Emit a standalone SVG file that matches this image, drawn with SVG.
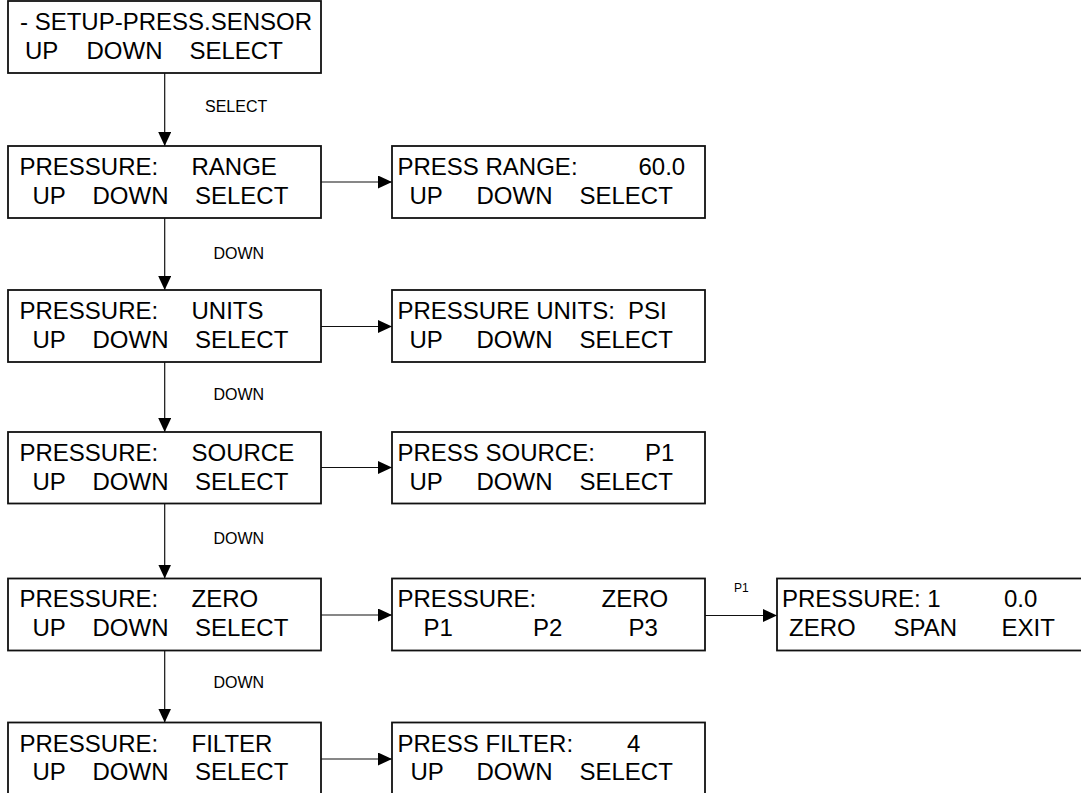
<svg xmlns="http://www.w3.org/2000/svg" width="1081" height="793" viewBox="0 0 1081 793">
<style>
.box{fill:#fff;stroke:#111;stroke-width:1.8}
.t{font-family:"Liberation Sans",Arial,sans-serif;font-size:24px;fill:#000}
.s{font-family:"Liberation Sans",Arial,sans-serif;font-size:16px;fill:#000}
.xs{font-family:"Liberation Sans",Arial,sans-serif;font-size:12px;fill:#000}
.c{stroke:#111;stroke-width:1.2;fill:none;marker-end:url(#ah)}
</style>
<defs>
<marker id="ah" markerWidth="14" markerHeight="13" refX="14" refY="6.5" orient="auto" markerUnits="userSpaceOnUse">
<path d="M0,0 L14,6.5 L0,13 Z" fill="#000"/>
</marker>
</defs>
<rect width="1081" height="793" fill="#fff"/>
<g id="connectors">
<line class="c" x1="164.7" y1="73" x2="164.7" y2="146"/>
<line class="c" x1="164.7" y1="218" x2="164.7" y2="290"/>
<line class="c" x1="164.7" y1="362" x2="164.7" y2="432"/>
<line class="c" x1="164.7" y1="503.5" x2="164.7" y2="578.5"/>
<line class="c" x1="164.7" y1="650.5" x2="164.7" y2="722.5"/>
<line class="c" x1="321" y1="182" x2="392" y2="182"/>
<line class="c" x1="321" y1="326.5" x2="392" y2="326.5"/>
<line class="c" x1="321" y1="467.5" x2="392" y2="467.5"/>
<line class="c" x1="321" y1="615" x2="392" y2="615"/>
<line class="c" x1="321" y1="759" x2="392" y2="759"/>
<line class="c" x1="705" y1="615.5" x2="777" y2="615.5"/>
<text class="s" x="205" y="112">SELECT</text>
<text class="s" x="213.5" y="259">DOWN</text>
<text class="s" x="213.5" y="400">DOWN</text>
<text class="s" x="213.5" y="544">DOWN</text>
<text class="s" x="213.5" y="688">DOWN</text>
<text class="xs" x="734" y="591.5">P1</text>
</g>
<g id="setup">
<rect class="box" x="8" y="1" width="313" height="72"/>
<text class="t" x="20" y="30">- SETUP-PRESS.SENSOR</text>
<text class="t" x="25" y="59">UP</text><text class="t" x="86.5" y="59">DOWN</text><text class="t" x="189.5" y="59">SELECT</text>
</g>
<g id="range">
<rect class="box" x="8" y="146" width="313" height="72"/>
<text class="t" x="19.5" y="175">PRESSURE:</text><text class="t" x="191.5" y="175">RANGE</text>
<text class="t" x="32.5" y="204">UP</text><text class="t" x="92.5" y="204">DOWN</text><text class="t" x="195" y="204">SELECT</text>
</g>
<g id="press-range">
<rect class="box" x="392" y="146" width="313" height="72"/>
<text class="t" x="397.5" y="175">PRESS RANGE:</text><text class="t" x="638.5" y="175">60.0</text>
<text class="t" x="409.5" y="204">UP</text><text class="t" x="476.5" y="204">DOWN</text><text class="t" x="579.5" y="204">SELECT</text>
</g>
<g id="units">
<rect class="box" x="8" y="290" width="313" height="72"/>
<text class="t" x="19.5" y="319">PRESSURE:</text><text class="t" x="191.5" y="319">UNITS</text>
<text class="t" x="32.5" y="348">UP</text><text class="t" x="92.5" y="348">DOWN</text><text class="t" x="195" y="348">SELECT</text>
</g>
<g id="pressure-units">
<rect class="box" x="392" y="290" width="313" height="72"/>
<text class="t" x="397.5" y="319">PRESSURE UNITS:</text><text class="t" x="628" y="319">PSI</text>
<text class="t" x="409.5" y="348">UP</text><text class="t" x="476.5" y="348">DOWN</text><text class="t" x="579.5" y="348">SELECT</text>
</g>
<g id="source">
<rect class="box" x="8" y="432" width="313" height="71.5"/>
<text class="t" x="19.5" y="461">PRESSURE:</text><text class="t" x="191.5" y="461">SOURCE</text>
<text class="t" x="32.5" y="489.5">UP</text><text class="t" x="92.5" y="489.5">DOWN</text><text class="t" x="195" y="489.5">SELECT</text>
</g>
<g id="press-source">
<rect class="box" x="392" y="432" width="313" height="71.5"/>
<text class="t" x="397.5" y="461">PRESS SOURCE:</text><text class="t" x="645" y="461">P1</text>
<text class="t" x="409.5" y="489.5">UP</text><text class="t" x="476.5" y="489.5">DOWN</text><text class="t" x="579.5" y="489.5">SELECT</text>
</g>
<g id="zero">
<rect class="box" x="8" y="578.5" width="313" height="72"/>
<text class="t" x="19.5" y="607">PRESSURE:</text><text class="t" x="191.5" y="607">ZERO</text>
<text class="t" x="32.5" y="636">UP</text><text class="t" x="92.5" y="636">DOWN</text><text class="t" x="195" y="636">SELECT</text>
</g>
<g id="pressure-zero">
<rect class="box" x="392" y="578.5" width="313" height="72"/>
<text class="t" x="397.5" y="607">PRESSURE:</text><text class="t" x="601.5" y="607">ZERO</text>
<text class="t" x="423.5" y="636">P1</text><text class="t" x="533" y="636">P2</text><text class="t" x="628.5" y="636">P3</text>
</g>
<g id="pressure-1">
<rect class="box" x="777" y="578.5" width="310" height="72"/>
<text class="t" x="782" y="607">PRESSURE: 1</text><text class="t" x="1004" y="607">0.0</text>
<text class="t" x="789" y="636">ZERO</text><text class="t" x="893.5" y="636">SPAN</text><text class="t" x="1001.5" y="636">EXIT</text>
</g>
<g id="filter">
<rect class="box" x="8" y="722.5" width="313" height="80"/>
<text class="t" x="19.5" y="751.5">PRESSURE:</text><text class="t" x="191.5" y="751.5">FILTER</text>
<text class="t" x="32.5" y="780">UP</text><text class="t" x="92.5" y="780">DOWN</text><text class="t" x="195" y="780">SELECT</text>
</g>
<g id="press-filter">
<rect class="box" x="392" y="722.5" width="313" height="80"/>
<text class="t" x="397.5" y="751.5">PRESS FILTER:</text><text class="t" x="627" y="751.5">4</text>
<text class="t" x="410.5" y="780">UP</text><text class="t" x="476.5" y="780">DOWN</text><text class="t" x="579.5" y="780">SELECT</text>
</g>
</svg>
